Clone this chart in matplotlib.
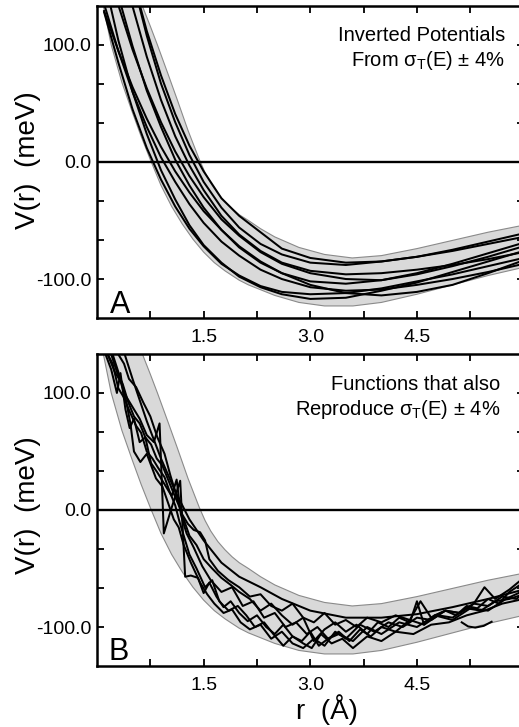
import numpy as np
import matplotlib
matplotlib.use("Agg")
import matplotlib.pyplot as plt

plt.rcParams['font.family'] = ['Liberation Sans', 'DejaVu Sans']
plt.rcParams['mathtext.fontset'] = 'custom'
plt.rcParams['mathtext.rm'] = 'Liberation Sans'

# grey +-4% band (same in both panels)
band_upper_r = [0.52, 0.64, 0.75, 0.85, 1.0, 1.13, 1.28, 1.44, 1.52, 1.6, 1.7, 1.8, 1.9, 2.0, 2.13,
                2.3, 2.5, 2.84, 3.2, 3.59, 4.0, 4.5, 5.0, 5.5, 6.0, 6.2]
band_upper_v = [156, 133, 116, 100, 75, 53, 27, 2, -9, -18, -27, -34, -40, -45, -50,
                -57, -64, -73, -79, -82, -80, -74, -67, -60, -54, -52]
band_lower_r = [0.0, 0.09, 0.2, 0.35, 0.5, 0.62, 0.75, 0.9, 1.05, 1.2, 1.35, 1.5, 1.65, 1.8, 2.0,
                2.13, 2.5, 2.84, 3.2, 3.6, 4.0, 4.5, 5.0, 5.5, 6.0, 6.2]
band_lower_v = [165, 133, 100, 68, 42, 22, 2, -20, -38, -53, -66, -77, -86, -93, -101,
                -105, -114, -120, -123, -123, -120, -113, -105, -97, -90, -87]

# panel A: inverted potentials (smooth)
r_grid = [0.1, 0.3, 0.5, 0.7, 0.9, 1.1, 1.3, 1.5, 1.75, 2.0, 2.3, 2.6, 3.0, 3.5, 4.0, 4.5, 5.0, 5.5, 6.0]
inv_1 = [128, 85, 45, 12, -15, -38, -57, -72, -87, -97, -106, -111, -113, -112, -108, -102, -96, -89, -82]
inv_2 = [157, 104, 60, 24, -7, -32, -54, -71, -86, -98, -107, -113, -117, -116, -110, -103, -94, -85, -76]
inv_3 = [135, 95, 60, 30, 4, -17, -36, -52, -68, -80, -92, -100, -107, -110, -109, -105, -100, -94, -87]
inv_4 = [129, 95, 64, 37, 13, -8, -26, -42, -58, -72, -85, -95, -105, -112, -114, -111, -105, -95, -84]
inv_5 = [193, 142, 99, 61, 30, 2, -20, -39, -58, -73, -86, -95, -102, -104, -101, -95, -87, -78, -69]
inv_6 = [179, 134, 96, 63, 34, 9, -12, -30, -49, -63, -77, -87, -95, -100, -101, -96, -89, -81, -72]
inv_7 = [240, 183, 133, 90, 53, 22, -3, -24, -46, -62, -76, -86, -93, -96, -95, -92, -88, -83, -77]
inv_8 = [280, 211, 156, 108, 67, 34, 6, -17, -39, -56, -70, -79, -86, -88, -85, -81, -75, -68, -61]
inv_9 = [270, 210, 157, 112, 74, 41, 14, -8, -31, -46, -60, -74, -82, -86, -85, -81, -76, -70, -64]
inverted = [inv_1, inv_2, inv_3, inv_4, inv_5, inv_6, inv_7, inv_8, inv_9]

# panel B: other functions reproducing the cross section (jagged)
j1_r = [0.22, 0.30, 0.40, 0.50, 0.60, 0.70, 0.80, 0.88, 0.94, 1.05, 1.17, 1.24, 1.32, 1.42, 1.50,
        1.58, 1.68, 1.78, 1.88, 2.00, 2.12, 2.25, 2.38, 2.50, 2.62, 2.75, 2.88, 3.00, 3.12, 3.25,
        3.40, 3.55, 3.70, 3.85, 4.00, 4.20, 4.40, 4.60, 4.80, 5.00, 5.20, 5.40, 5.60, 5.80, 6.00]
j1_v = [133, 118, 98, 88, 78, 64, 58, 74, -20, 2, 25, -57, -56, -58, -71,
        -62, -74, -83, -78, -88, -95, -90, -100, -106, -98, -108, -112, -104, -116, -110,
        -104, -112, -102, -108, -100, -104, -94, -98, -90, -92, -84, -86, -78, -76, -72]
j2_r = [0.15, 0.25, 0.33, 0.40, 0.47, 0.52, 0.61, 0.70, 0.83, 0.92, 1.00, 1.08, 1.15, 1.22, 1.32,
        1.45, 1.55, 1.65, 1.78, 1.90, 2.02, 2.15, 2.30, 2.45, 2.60, 2.75, 2.90, 3.05, 3.20, 3.35,
        3.50, 3.70, 3.90, 4.10, 4.30, 4.50, 4.70, 4.90, 5.10, 5.30, 5.50, 5.70, 5.90, 6.00]
j2_v = [133, 118, 110, 96, 74, 50, 41, 48, 27, 20, 6, -8, -15, -30, -45,
        -62, -72, -80, -88, -85, -96, -102, -98, -110, -104, -114, -118, -110, -116, -104,
        -110, -98, -104, -96, -100, -92, -94, -86, -88, -80, -82, -74, -76, -71]
j3_r = [0.30, 0.38, 0.45, 0.55, 0.65, 0.75, 0.85, 0.95, 1.03, 1.12, 1.20, 1.28, 1.36, 1.45, 1.52,
        1.58, 1.70, 1.85, 2.00, 2.15, 2.30, 2.45, 2.60, 2.75, 2.90, 3.05, 3.20, 3.35, 3.50, 3.65,
        3.80, 4.00, 4.20, 4.40, 4.55, 4.70, 4.90, 5.10, 5.30, 5.45, 5.60, 5.80, 6.00]
j3_v = [133, 125, 112, 105, 92, 80, 62, 48, 30, 12, -4, -12, -17, -19, -26,
        -42, -52, -60, -66, -74, -72, -82, -86, -80, -92, -96, -88, -98, -94, -100,
        -92, -96, -90, -94, -78, -92, -86, -88, -80, -66, -76, -68, -58]
j4_r = [0.12, 0.20, 0.28, 0.33, 0.40, 0.46, 0.52, 0.60, 0.68, 0.76, 0.85, 0.95, 1.05, 1.12, 1.18,
        1.26, 1.36, 1.48, 1.60, 1.75, 1.90, 2.05, 2.20, 2.35, 2.50, 2.65, 2.80, 2.95, 3.10, 3.25,
        3.40, 3.60, 3.80, 4.00, 4.25, 4.50, 4.75, 5.00, 5.25, 5.50, 5.75, 6.00]
j4_v = [133, 120, 100, 117, 86, 70, 78, 58, 62, 40, 32, 22, 12, 26, -4,
        -20, -32, -48, -60, -70, -66, -82, -78, -92, -88, -100, -96, -106, -100, -110,
        -106, -112, -100, -106, -96, -100, -90, -94, -84, -86, -76, -69]
j5_r = [0.15, 0.22, 0.30, 0.38, 0.46, 0.55, 0.62, 0.70, 0.78, 0.86, 0.95, 1.02, 1.10, 1.16, 1.22,
        1.30, 1.40, 1.52, 1.62, 1.72, 1.85, 1.98, 2.10, 2.22, 2.35, 2.48, 2.62, 2.75, 2.90, 3.02,
        3.15, 3.30, 3.45, 3.60, 3.80, 4.00, 4.20, 4.45, 4.70, 4.95, 5.20, 5.45, 5.70, 6.00]
j5_v = [133, 125, 104, 96, 84, 72, 66, 50, 44, 36, 28, 16, 4, -10, -22,
        -38, -50, -66, -60, -78, -86, -82, -90, -100, -96, -106, -116, -108, -114, -118,
        -106, -114, -110, -118, -108, -112, -104, -106, -98, -96, -90, -86, -80, -76]
j6_r = [0.20, 0.28, 0.36, 0.44, 0.52, 0.60, 0.68, 0.76, 0.84, 0.92, 1.00, 1.08, 1.15, 1.22, 1.30,
        1.40, 1.50, 1.62, 1.75, 1.88, 2.00, 2.15, 2.30, 2.45, 2.60, 2.75, 2.90, 3.05, 3.20, 3.35,
        3.50, 3.65, 3.80, 3.95, 4.10, 4.25, 4.40, 4.50, 4.60, 4.75, 4.90, 5.05, 5.20, 5.35, 5.50,
        5.65, 5.80, 6.00]
j6_v = [133, 118, 108, 92, 80, 74, 62, 56, 44, 38, 26, 14, 4, -8, -22,
        -30, -42, -50, -58, -64, -70, -76, -86, -80, -90, -98, -92, -112, -102, -96,
        -104, -98, -106, -96, -100, -92, -96, -78, -98, -90, -86, -90, -82, -84, -76,
        -80, -70, -62]
smooth_r = [0.3, 0.5, 0.7, 0.9, 1.1, 1.3, 1.5, 1.75, 2.0, 2.3, 2.6, 3.0, 3.5, 4.0, 4.5, 5.0, 5.5, 6.0]
smooth_v = [150, 112, 76, 44, 16, -8, -26, -45, -57, -66, -76, -86, -92, -92, -89, -83, -76, -68]
arc_r = [5.13, 5.22, 5.32, 5.44, 5.55]
arc_v = [-96, -99.5, -100.5, -99, -95.5]
jagged = [(j1_r, j1_v), (j2_r, j2_v), (j3_r, j3_v), (j4_r, j4_v), (j5_r, j5_v), (j6_r, j6_v),
          (smooth_r, smooth_v), (arc_r, arc_v)]

x_ticks = [0.75, 1.5, 2.25, 3.0, 3.75, 4.5, 5.25]
x_labels = ['', '1.5', '', '3.0', '', '4.5', '']
y_ticks = [-100, -200 / 3, -100 / 3, 0, 100 / 3, 200 / 3, 100]
y_labels = ['-100.0', '', '', '0.0', '', '', '100.0']

fig = plt.figure(figsize=(5.19, 7.27), dpi=100)
ax_a = fig.add_axes([97 / 519, 1 - 318 / 727, 426.6 / 519, 312 / 727])
ax_b = fig.add_axes([97 / 519, 1 - 666 / 727, 426.6 / 519, 312 / 727])


def setup(ax):
    poly_r = np.r_[band_upper_r, band_lower_r[::-1]]
    poly_v = np.r_[band_upper_v, band_lower_v[::-1]]
    ax.fill(poly_r, poly_v, facecolor='#d9d9d9', edgecolor='none', zorder=1)
    ax.plot(band_upper_r, band_upper_v, color='#8a8a8a', lw=0.8, zorder=2)
    ax.plot(band_lower_r, band_lower_v, color='#8a8a8a', lw=0.8, zorder=2)
    ax.axhline(0, color='black', lw=1.7, zorder=4)
    ax.set_xlim(0, 6)
    ax.set_ylim(-133.3, 133.3)
    ax.set_xticks(x_ticks)
    ax.set_xticklabels(x_labels)
    ax.set_yticks(y_ticks)
    ax.set_yticklabels(y_labels)
    ax.tick_params(direction='in', length=5, width=1.3, top=True, right=True, labelsize=14)
    ax.tick_params(axis='x', pad=8)
    ax.tick_params(axis='y', pad=4)
    for s in ax.spines.values():
        s.set_linewidth(1.8)


setup(ax_a)
for v in inverted:
    ax_a.plot(r_grid, v, color='black', lw=1.45, zorder=3)

setup(ax_b)
for rr, vv in jagged:
    ax_b.plot(rr, vv, color='black', lw=1.45, zorder=3)

ax_a.text(0.956, 0.907, 'Inverted Potentials', transform=ax_a.transAxes,
          ha='right', va='center', fontsize=14.5)
ax_a.text(0.956, 0.824, r'From σ$_{\mathregular{T}}$(E) ± 4%', transform=ax_a.transAxes,
          ha='right', va='center', fontsize=14.5)
ax_b.text(0.945, 0.901, 'Functions that also', transform=ax_b.transAxes,
          ha='right', va='center', fontsize=14.5)
ax_b.text(0.945, 0.821, r'Reproduce σ$_{\mathregular{T}}$(E) ± 4%', transform=ax_b.transAxes,
          ha='right', va='center', fontsize=14.5)

ax_a.text(0.03, 0.016, 'A', transform=ax_a.transAxes, ha='left', va='baseline', fontsize=22)
ax_b.text(0.026, 0.019, 'B', transform=ax_b.transAxes, ha='left', va='baseline', fontsize=22)

fig.text(28 / 519, 1 - 160 / 727, 'V(r)  (meV)', rotation=90, ha='center', va='center', fontsize=20)
fig.text(28 / 519, 1 - 505 / 727, 'V(r)  (meV)', rotation=90, ha='center', va='center', fontsize=20)
fig.text(327 / 519, 1 - 719 / 727, 'r  (Å)', ha='center', va='baseline', fontsize=20)

fig.savefig('out.png', dpi=100)
